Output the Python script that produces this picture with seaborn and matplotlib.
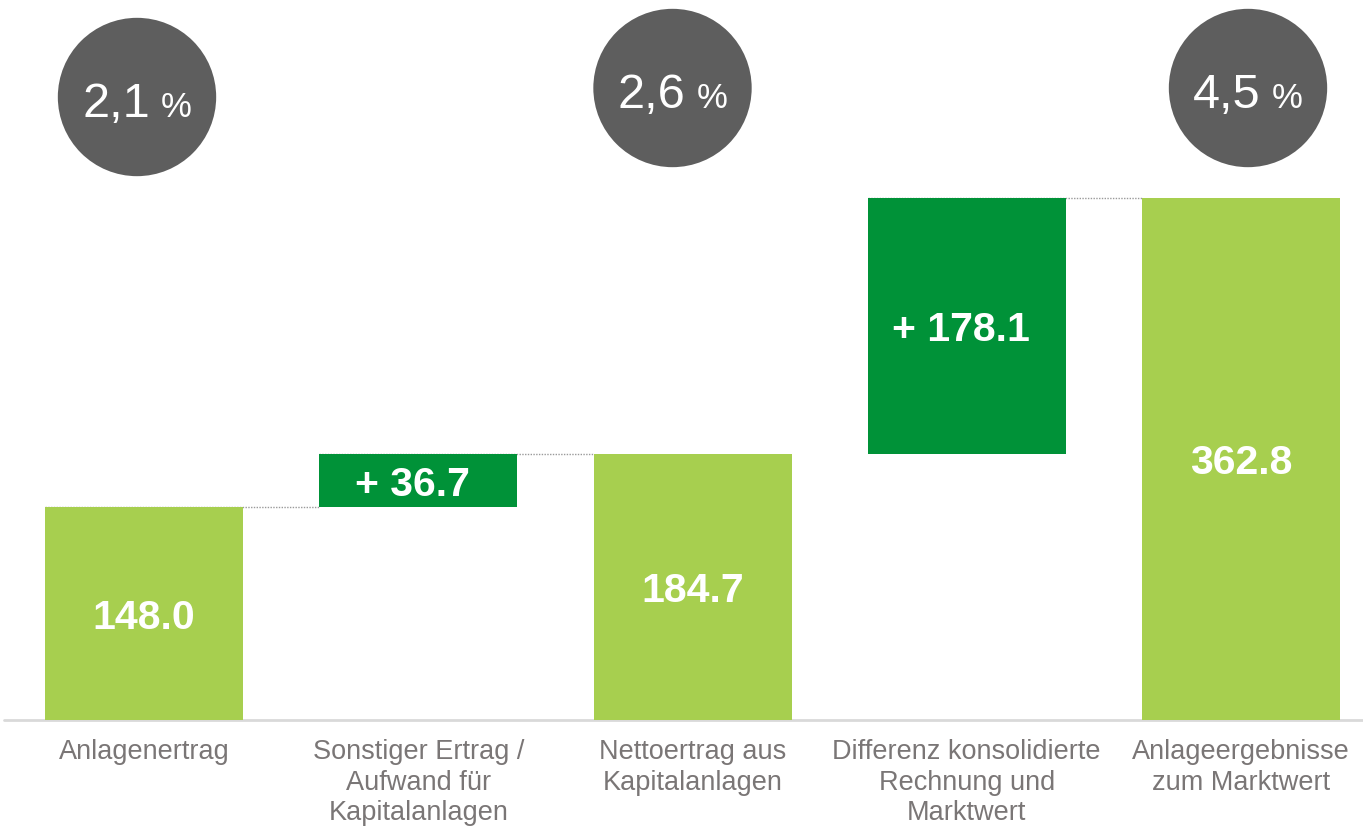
import matplotlib
matplotlib.use("Agg")
import matplotlib.pyplot as plt
import seaborn as sns
import pandas as pd

# data
categories = ["Anlagenertrag",
              "Sonstiger Ertrag /\nAufwand für\nKapitalanlagen",
              "Nettoertrag aus\nKapitalanlagen",
              "Differenz konsolidierte\nRechnung und\nMarktwert",
              "Anlageergebnisse\nzum Marktwert"]
values = [148.0, 36.7, 184.7, 178.1, 362.8]
kinds = ["total", "delta", "total", "delta", "total"]
rate_pos = [0, 2, 4]
rate_vals = ["2,1", "2,6", "4,5"]
connectors = [0, 1, 3]   # dotted line from top of bar i to bar i+1

light_green = "#A7CF4F"
dark_green = "#009238"
circle_grey = "#5E5E5E"
label_grey = "#7A7676"

# running totals for the waterfall
bottoms, tops = [], []
run = 0.0
for v, k in zip(values, kinds):
    if k == "total":
        bottoms.append(0.0)
        run = v
    else:
        bottoms.append(run)
        run = run + v
    tops.append(bottoms[-1] + v)

df = pd.DataFrame({"cat": categories, "value": values, "kind": kinds,
                   "bottom": bottoms, "top": tops})
df["x"] = range(len(df))

sns.set_theme(style="white")
plt.rcParams["font.family"] = ["Liberation Sans", "DejaVu Sans"]

fig = plt.figure(figsize=(13.63, 8.27), dpi=100)
ax = fig.add_axes([0, 107 / 827, 1, 720 / 827])

px = 274.25  # pixels per category
py = 1.439   # pixels per unit
bw = 198 / px

colors = [light_green if k == "total" else dark_green for k in df["kind"]]
ax.bar(df["x"], df["value"], bottom=df["bottom"], width=bw, color=colors,
       linewidth=0, zorder=2)

# value labels
for _, r in df.iterrows():
    txt = f"{r['value']:.1f}" if r["kind"] == "total" else f"+ {r['value']:.1f}"
    xoff = 0 if r["kind"] == "total" else -6 / px
    ax.text(r["x"] + xoff, r["bottom"] + r["value"] / 2 - 4 / py, txt,
            ha="center", va="center", color="white", fontsize=29.5,
            fontweight="bold", zorder=3)

# dotted connectors
for i in connectors:
    ax.plot([i - bw / 2, i + 1 - bw / 2], [tops[i], tops[i]], color="#9A9A9A",
            lw=1, ls=(0, (1, 1)), zorder=1)

# baseline
ax.plot([-0.51, 4.45], [0, 0], color="#D9D9D9", lw=2, zorder=1, clip_on=False)

# percentage circles
circ = pd.DataFrame({"x": [0 - 7 / px, 2 - 20 / px, 4 + 7 / px],
                     "y": [(720 - 97) / py, (720 - 88) / py, (720 - 88) / py],
                     "rate": rate_vals})
sns.scatterplot(data=circ, x="x", y="y", s=13000, color=circle_grey,
                edgecolor="none", ax=ax, zorder=3, legend=False)
for _, c in circ.iterrows():
    yb = c["y"] - 20 / py
    ax.text(c["x"] + 13 / px, yb, c["rate"], ha="right", va="baseline",
            color="white", fontsize=35, zorder=4)
    ax.text(c["x"] + 24 / px, yb, "%", ha="left", va="baseline",
            color="white", fontsize=25, zorder=4)

ax.set_xlim(-144 / px, 4 + (1363 - 1241) / px)
ax.set_ylim(0, 720 / py)
ax.set_xticks(df["x"])
ax.set_xticklabels(df["cat"], fontsize=19.5, color=label_grey,
                   linespacing=1.21)
ax.tick_params(axis="x", length=0, pad=14)
ax.set_yticks([])
ax.set_xlabel("")
ax.set_ylabel("")
sns.despine(ax=ax, left=True, bottom=True)

fig.savefig("out.png", dpi=100)
